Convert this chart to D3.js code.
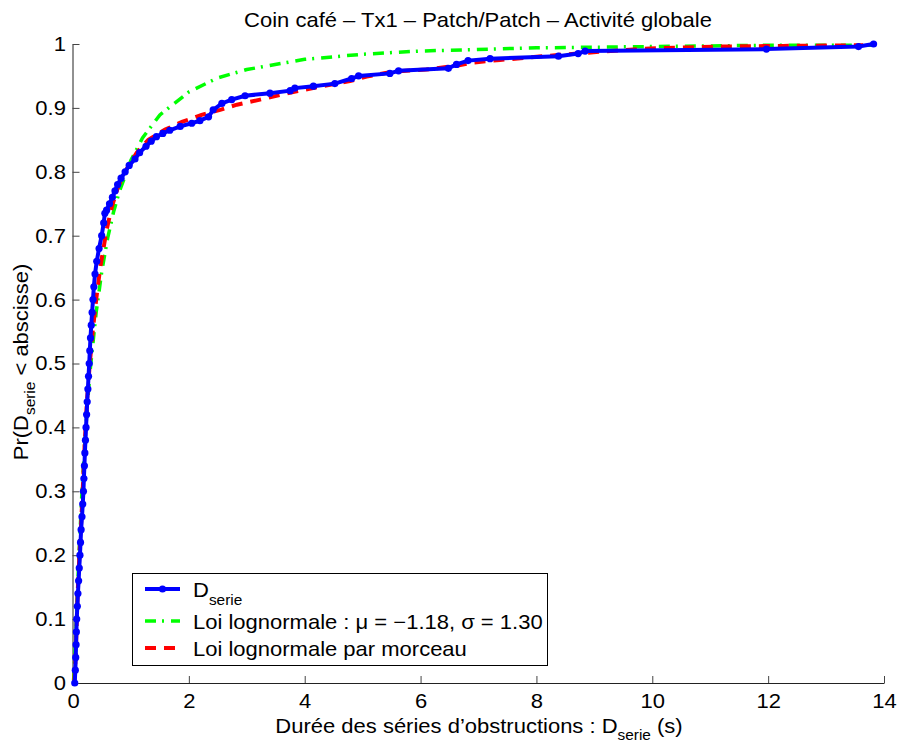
<!DOCTYPE html>
<html>
<head>
<meta charset="utf-8">
<script src="https://cdn.jsdelivr.net/npm/d3@7"></script>
<style>
  body { margin: 0; background: #fff; }
  text { font-family: "Liberation Sans", Arial, Helvetica, sans-serif; fill: #000; }
</style>
</head>
<body>
<div id="container"></div>
<script>
/* DATA */
// empirical CDF of D_serie (seconds, probability)
const serieX = [0.03, 0.04, 0.047, 0.053, 0.058, 0.064, 0.075, 0.085, 0.097, 0.108, 0.12, 0.13, 0.14, 0.155, 0.168,
  0.18, 0.188, 0.197, 0.205, 0.215, 0.225, 0.235, 0.245, 0.257, 0.268, 0.28, 0.29, 0.302, 0.315, 0.33,
  0.345, 0.36, 0.38, 0.41, 0.45, 0.495, 0.53, 0.55, 0.58, 0.63, 0.68, 0.725, 0.77, 0.83, 0.9, 0.97,
  1.07, 1.15, 1.26, 1.35, 1.44, 1.55, 1.67, 1.85, 2.05, 2.19, 2.34, 2.42, 2.57, 2.74, 2.97, 3.4,
  3.75, 3.83, 4.15, 4.52, 4.81, 4.93, 5.47, 5.62, 6.48, 6.62, 6.82, 7.2, 8.38, 8.72, 8.84, 11.97, 13.56, 13.82];
const serieP = [0, 0.02, 0.04, 0.06, 0.08, 0.1, 0.12, 0.14, 0.16, 0.18, 0.2, 0.22, 0.24, 0.26, 0.28,
  0.3, 0.32, 0.34, 0.36, 0.38, 0.4, 0.42, 0.44, 0.46, 0.48, 0.5, 0.52, 0.54, 0.56, 0.58,
  0.6, 0.62, 0.64, 0.66, 0.68, 0.7, 0.72, 0.735, 0.74, 0.75, 0.76, 0.77, 0.78, 0.79, 0.8, 0.81,
  0.82, 0.83, 0.84, 0.848, 0.855, 0.86, 0.865, 0.871, 0.876, 0.88, 0.886, 0.897, 0.907, 0.913, 0.919, 0.923,
  0.927, 0.931, 0.934, 0.938, 0.946, 0.95, 0.954, 0.958, 0.962, 0.968, 0.974, 0.977, 0.981, 0.985, 0.989, 0.992, 0.996, 1];

// lognormal fit (green dash-dot)
const lognX = [0.01, 0.03, 0.05, 0.075, 0.1, 0.15, 0.2, 0.25, 0.3, 0.4, 0.5, 0.6, 0.7, 0.8, 1.0, 1.2, 1.5,
  2.0, 2.5, 3.0, 4.0, 5.0, 6.0, 8.0, 10.0, 12.0, 13.8];
const lognP = [0.004, 0.037, 0.081, 0.139, 0.194, 0.291, 0.371, 0.437, 0.493, 0.58, 0.646, 0.697, 0.737, 0.769,
  0.818, 0.853, 0.889, 0.925, 0.947, 0.96, 0.976, 0.984, 0.989, 0.994, 0.996, 0.998, 0.998];

// piecewise lognormal (red dashed)
const pieceX = [0.02, 0.04, 0.06, 0.08, 0.11, 0.14, 0.167, 0.2, 0.24, 0.29, 0.34, 0.4, 0.47, 0.58, 0.67, 0.78,
  0.93, 1.1, 1.3, 1.59, 1.88, 2.22, 2.54, 2.83, 3.23, 3.57, 3.86, 4.26, 4.78, 5.07, 5.53, 6.1, 6.62,
  6.91, 7.37, 8.0, 8.41, 9.1, 9.96, 11.11, 12.26, 13.64];
const pieceP = [0, 0.03, 0.08, 0.14, 0.2, 0.25, 0.3, 0.37, 0.44, 0.5, 0.55, 0.6, 0.65, 0.709, 0.745, 0.777,
  0.805, 0.83, 0.85, 0.866, 0.878, 0.889, 0.897, 0.905, 0.913, 0.92, 0.926, 0.933, 0.942, 0.949, 0.957, 0.96, 0.966,
  0.971, 0.975, 0.98, 0.983, 0.988, 0.993, 0.996, 0.997, 0.998];

const xTicks = [0, 2, 4, 6, 8, 10, 12, 14];
const yTicks = [0, 0.1, 0.2, 0.3, 0.4, 0.5, 0.6, 0.7, 0.8, 0.9, 1];

/* CONSTANTS */
const width = 898, height = 742;
const plot = { left: 73, right: 884, top: 44, bottom: 683 };
const fs = 20, fsSub = 14, stretch = "scale(1.1,1)";   // reference glyphs are a bit wider than Arial

const svg = d3.select("#container").append("svg")
  .attr("width", width).attr("height", height);

// SCALES
const x = d3.scaleLinear().domain([0, 14]).range([plot.left, plot.right]);
const y = d3.scaleLinear().domain([0, 1]).range([plot.bottom, plot.top]);

// AXES (MATLAB style: inward ticks, no box)
svg.append("g")
  .attr("transform", `translate(0,${plot.bottom})`)
  .call(d3.axisBottom(x).tickValues(xTicks).tickSize(-7).tickSizeOuter(0).tickPadding(11).tickFormat(d3.format("d")))
  .call(g => g.selectAll("text").attr("font-size", fs).attr("font-family", null).attr("transform", stretch))
  .call(g => g.select(".domain").attr("stroke", "#222"))
  .call(g => g.selectAll(".tick line").attr("stroke", "#444"));

svg.append("g")
  .attr("transform", `translate(${plot.left - 0.5},0)`)
  .call(d3.axisLeft(y).tickValues(yTicks).tickSize(-7).tickSizeOuter(0).tickPadding(6)
    .tickFormat(d => String(+d.toFixed(1))))
  .call(g => g.selectAll("text").attr("font-size", fs).attr("font-family", null).attr("transform", stretch))
  .call(g => g.select(".domain").attr("stroke", "#222"))
  .call(g => g.selectAll(".tick line").attr("stroke", "#444"));

const line = d3.line().x(d => x(d[0])).y(d => y(d[1]));

// green lognormal fit
svg.append("path")
  .datum(d3.zip(lognX, lognP))
  .attr("d", line)
  .attr("fill", "none")
  .attr("stroke", "#00ff00")
  .attr("stroke-width", 3.5)
  .attr("stroke-dasharray", "11,6,2,7");

// red piecewise fit
svg.append("path")
  .datum(d3.zip(pieceX, pieceP))
  .attr("d", line)
  .attr("fill", "none")
  .attr("stroke", "#ff0000")
  .attr("stroke-width", 4)
  .attr("stroke-dasharray", "11,8");

// blue empirical CDF with markers
const serie = d3.zip(serieX, serieP);
svg.append("path")
  .datum(serie)
  .attr("d", line)
  .attr("fill", "none")
  .attr("stroke", "#0000ff")
  .attr("stroke-width", 4);

svg.selectAll(".serie-point")
  .data(serie)
  .join("circle")
  .attr("class", "serie-point")
  .attr("cx", d => x(d[0]))
  .attr("cy", d => y(d[1]))
  .attr("r", 3.6)
  .attr("fill", "#0000ff");

// TITLE + LABELS
svg.append("text")
  .attr("transform", `translate(478,27) ${stretch}`)
  .attr("text-anchor", "middle").attr("font-size", fs)
  .text("Coin café – Tx1 – Patch/Patch – Activité globale");

const xl = svg.append("text")
  .attr("transform", `translate(479,733) ${stretch}`)
  .attr("text-anchor", "middle").attr("font-size", fs);
xl.append("tspan").text("Durée des séries d’obstructions : D");
xl.append("tspan").attr("font-size", fsSub).attr("dy", 7).text("serie");
xl.append("tspan").attr("dy", -7).text(" (s)");

const yl = svg.append("text")
  .attr("transform", `translate(28,362) rotate(-90) ${stretch}`)
  .attr("text-anchor", "middle").attr("font-size", fs);
yl.append("tspan").text("Pr(D");
yl.append("tspan").attr("font-size", fsSub).attr("dy", 7).text("serie");
yl.append("tspan").attr("dy", -7).text(" < abscisse)");

// LEGEND
const legend = svg.append("g");
legend.append("rect")
  .attr("x", 132.5).attr("y", 573.5).attr("width", 415).attr("height", 92)
  .attr("fill", "#fff").attr("stroke", "#000").attr("stroke-width", 1);

const rows = [
  { y: 589, color: "#0000ff", dash: null, w: 4, marker: true },
  { y: 621, color: "#00ff00", dash: "11,6,2,7", w: 3.5, marker: false },
  { y: 648, color: "#ff0000", dash: "11,8", w: 4, marker: false }
];
rows.forEach(r => {
  legend.append("line")
    .attr("x1", 145).attr("x2", 180).attr("y1", r.y).attr("y2", r.y)
    .attr("stroke", r.color).attr("stroke-width", r.w)
    .attr("stroke-dasharray", r.dash);
  if (r.marker) legend.append("circle").attr("cx", 162.5).attr("cy", r.y).attr("r", 3.6).attr("fill", r.color);
});

const t1 = legend.append("text").attr("transform", `translate(193,597) ${stretch}`).attr("font-size", fs);
t1.append("tspan").text("D");
t1.append("tspan").attr("font-size", fsSub).attr("dy", 8).text("serie");
legend.append("text").attr("transform", `translate(193,629) ${stretch}`).attr("font-size", fs)
  .text("Loi lognormale : μ = −1.18, σ = 1.30");
legend.append("text").attr("transform", `translate(193,656) ${stretch}`).attr("font-size", fs)
  .text("Loi lognormale par morceau");
</script>
</body>
</html>
